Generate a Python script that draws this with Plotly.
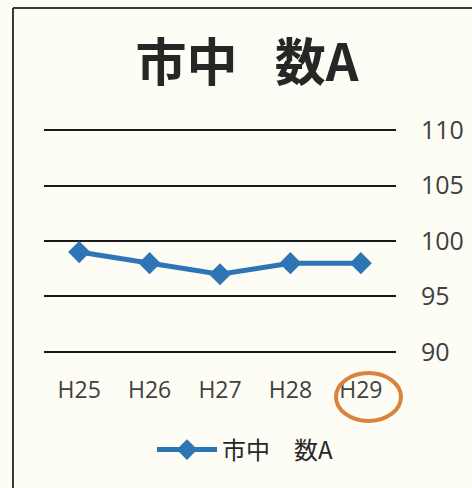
import plotly.graph_objects as go

categories = ["H25", "H26", "H27", "H28", "H29"]
values = [99, 98, 97, 98, 98]
series_name = "市中　数A"
title_text = "市中\u2002 数A"
y_ticks = [90, 95, 100, 105, 110]

W, H = 472, 488
L, R, T, B = 44, 76, 128, 134
pw, ph = W - L - R, H - T - B

def px_x(x):
    return (x - L) / pw

def px_y(y):
    return (H - B - y) / ph

bg = "#fdfdf5"
fig = go.Figure()
fig.add_trace(go.Scatter(
    x=list(range(len(categories))), y=values, name=series_name,
    mode="lines+markers",
    line=dict(color="#2e75b6", width=5),
    marker=dict(symbol="diamond", size=17, color="#2e75b6"),
))

fig.update_layout(
    width=W, height=H,
    margin=dict(l=L, r=R, t=T, b=B, autoexpand=False),
    paper_bgcolor=bg, plot_bgcolor=bg,
    font=dict(family="Open Sans, Noto Sans CJK JP", color="#404040"),
    title=dict(text="<b>" + title_text + "</b>", x=px_x(247), xref="paper", xanchor="center",
               y=1 - 63 / H, yanchor="middle", automargin=False,
               font=dict(size=51, family="Noto Sans CJK JP", color="#262626")),
    showlegend=True,
    legend=dict(orientation="h", x=px_x(245), xanchor="center", y=px_y(450), yanchor="middle",
                font=dict(size=24, family="Noto Sans CJK JP", color="#262626"),
                bgcolor="rgba(0,0,0,0)", itemwidth=60),
    xaxis=dict(
        tickmode="array", tickvals=list(range(len(categories))), ticktext=categories,
        range=[-0.5, len(categories) - 0.5], showgrid=False, zeroline=False, showline=False,
        ticks="", ticklabelstandoff=20, automargin=False,
        tickfont=dict(size=23, color="#404040"),
    ),
    yaxis=dict(
        range=[89.8, 110.2], tickvals=y_ticks, side="right", showgrid=True,
        gridcolor="#1a1a1a", gridwidth=1.6, zeroline=False, showline=False,
        ticks="", ticklabelstandoff=24, automargin=False,
        tickfont=dict(size=25, color="#404040"),
    ),
    shapes=[
        dict(type="line", xref="paper", yref="paper",
             x0=px_x(13), x1=px_x(13), y0=px_y(8), y1=px_y(500),
             line=dict(color="#3a3a3a", width=2)),
        dict(type="line", xref="paper", yref="paper",
             x0=px_x(13), x1=px_x(480), y0=px_y(8), y1=px_y(8),
             line=dict(color="#3a3a3a", width=2)),
        dict(type="circle", xref="paper", yref="paper",
             x0=px_x(336), x1=px_x(401), y0=px_y(373), y1=px_y(421),
             line=dict(color="#d9843e", width=4)),
    ],
)

fig.write_html("out.html", config={"displayModeBar": False},
               post_script="document.body.style.margin='0';document.body.style.overflow='hidden';")
